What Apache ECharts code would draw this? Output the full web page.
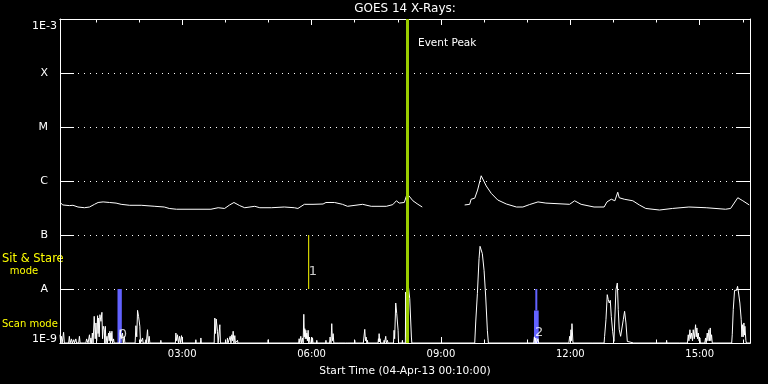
<!DOCTYPE html>
<html><head><meta charset="utf-8">
<script src="https://cdn.jsdelivr.net/npm/echarts@6/dist/echarts.min.js"></script>
<style>html,body{margin:0;padding:0;background:#000}#c{width:768px;height:384px}</style>
</head><body><div id="c"></div><script>
// x values are minutes after 00:00 on 04-Apr-2013, y values are flux (W/m^2)
const startMin = 10;
const endMin = 970;
const yTickLabels = ['1E-9', 'A', 'B', 'C', 'M', 'X', '1E-3'];
const majorTicks = [180, 360, 540, 720, 900];
const minorTicks = [60, 120, 240, 300, 420, 480, 600, 660, 780, 840, 960];
const eventPeakMin = 493;
const stareMarker = [[356, 1e-8], [356, 1e-7]];
const scanBlocks = [[90, 96, 1e-9, 1e-8], [669.5, 676, 1e-9, 4e-9], [671.3, 674.1, 4e-9, 1e-8]];
const modeLabels = [['0', 97.5, 1.41e-9], ['1', 362, 2.06e-8], ['2', 676.5, 1.53e-9]];

const goesFlux = [
[11,3.9e-7],[14,3.6e-7],[23,3.5e-7],[28,3.55e-7],[35,3.3e-7],[44,3.2e-7],[51,3.3e-7],[58,3.7e-7],[63,4.0e-7],[70,4.1e-7],
[79,4.0e-7],[88,3.9e-7],[95,3.7e-7],[107,3.55e-7],[123,3.55e-7],[142,3.4e-7],[155,3.3e-7],[162,3.1e-7],[172,3.0e-7],[220,3.0e-7],
[230,3.2e-7],[239,3.1e-7],[246,3.6e-7],[252,4.0e-7],[260,3.5e-7],[267,3.2e-7],[281,3.4e-7],[288,3.2e-7],[304,3.2e-7],[322,3.3e-7],
[336,3.2e-7],[341,3.1e-7],[350,3.7e-7],[362,3.7e-7],[376,3.75e-7],[380,4.0e-7],[392,4.0e-7],[403,3.7e-7],[410,3.4e-7],[431,3.7e-7],
[443,3.4e-7],[464,3.4e-7],[473,3.65e-7],[478,4.3e-7],[482,3.9e-7],[489,4.0e-7],[492,5.3e-7],[495,5.4e-7],[501,4.3e-7],[508,3.7e-7],
[514,3.3e-7],[540,null],[573,3.6e-7],[580,3.7e-7],[582,4.6e-7],[587,4.8e-7],[591,6.8e-7],[596,1.25e-6],[598,1.2e-6],[603,8.1e-7],
[610,5.9e-7],[619,4.45e-7],[631,3.75e-7],[645,3.3e-7],[654,3.3e-7],[663,3.65e-7],[675,4.1e-7],[686,3.9e-7],[719,3.7e-7],[726,4.3e-7],
[735,3.7e-7],[753,3.3e-7],[767,3.3e-7],[771,4.1e-7],[777,4.6e-7],[782,4.3e-7],[786,6.2e-7],[788,4.9e-7],[795,4.6e-7],[807,4.3e-7],
[816,3.6e-7],[825,3.1e-7],[844,2.9e-7],[862,3.1e-7],[885,3.3e-7],[909,3.2e-7],[936,3.0e-7],[943,3.1e-7],[953,4.9e-7],[960,4.3e-7],
[969,3.6e-7]
];

const scanFlux = [
[10,1.42e-9],[11,1e-9],[12,1.33e-9],[13,1e-9],[15,1.58e-9],[16,1e-9],
[22,1e-9],[23,1.33e-9],[24,1e-9],[26,1.19e-9],[27,1e-9],[29,1.15e-9],[30,1e-9],[32,1.19e-9],[33,1e-9],[36,1e-9],[37,1.33e-9],[38,1e-9],
[46,1e-9],[47,1.19e-9],[49,1e-9],[51,1.42e-9],[52,1e-9],[53,1.24e-9],[54,1e-9],[55,1.53e-9],[56,1e-9],[57.6,3.12e-9],[59,1.2e-9],
[60,2.35e-9],[61,1.1e-9],[62.3,3.2e-9],[63,1.5e-9],[63.7,2.9e-9],[64.5,1.3e-9],[65.5,3.34e-9],[67,2.52e-9],[68.3,3.7e-9],[69.2,1.2e-9],
[70.2,2.04e-9],[71.6,1.76e-9],[72.3,1e-9],[73,2.04e-9],[74,1e-9],[75.3,1.33e-9],[76,1e-9],[77.6,1.53e-9],[78.5,1.1e-9],[79.4,1.65e-9],
[80.1,1e-9],[80.8,1.53e-9],[81.5,1.1e-9],[82.2,1.65e-9],[83,1e-9],[84.5,1.19e-9],[85.3,1e-9],
[93,1e-9],[93.8,1.76e-9],[95,1.2e-9],[97,1.53e-9],[98,1e-9],[99.4,1.33e-9],[100.3,1e-9],
[114.5,1e-9],[115.6,2.09e-9],[116.8,1.3e-9],[117.9,4.03e-9],[119.3,3.12e-9],[121.1,2.04e-9],[122,1e-9],[124.3,1e-9],[124.9,1.24e-9],
[125.6,1e-9],[129,1e-9],[129.5,1.15e-9],[130.1,1e-9],[131.2,1e-9],[131.8,1.76e-9],[132.8,1e-9],[134.1,1.33e-9],[135,1e-9],
[150,1e-9],[150.3,1.12e-9],[150.8,1e-9],[154.6,1e-9],[155,1.07e-9],[155.5,1e-9],
[170.5,1e-9],[171.2,1.53e-9],[172.3,1.1e-9],[173.5,1.42e-9],[174.8,1e-9],[176.3,1.33e-9],[177.3,1e-9],[179.1,1.37e-9],[180,1e-9],
[198.5,1e-9],[199,1.15e-9],[199.6,1e-9],[205.4,1e-9],[206,1.24e-9],[206.7,1e-9],
[224.5,1e-9],[225.4,2.9e-9],[226.4,1.5e-9],[227.3,2.78e-9],[229.1,1.65e-9],[230,1e-9],[231.5,1e-9],[232.4,2.18e-9],[233.2,1e-9],
[242.3,1e-9],[243,1.24e-9],[243.8,1e-9],[246.1,1e-9],[246.8,1.33e-9],[247.8,1e-9],[249.1,1.42e-9],[250,1.1e-9],[250.9,1.65e-9],
[252,1e-9],[253.2,1.37e-9],[254,1e-9],[256.6,1e-9],[257,1.12e-9],[257.5,1e-9],
[299.1,1e-9],[299.6,1.15e-9],[300.2,1e-9],
[342,1e-9],[342.7,1.2e-9],[343.6,1e-9],[345,1.33e-9],[346,1e-9],[347.4,1.24e-9],[348.3,1e-9],[349.2,3.4e-9],[350,1.3e-9],
[350.6,1.84e-9],[351.3,1.2e-9],[352,1.72e-9],[352.7,1.2e-9],[353.4,1.53e-9],[354.2,1.1e-9],[355.2,1.72e-9],[356.1,1e-9],
[357.1,1.29e-9],[358,1e-9],[360.8,1e-9],[361.3,1.25e-9],[362,1e-9],[366.9,1e-9],[367.3,1.12e-9],[367.8,1e-9],
[379.5,1e-9],[380,1.12e-9],[380.5,1e-9],[385,1e-9],[385.8,1.29e-9],[387,1e-9],[388.1,2.28e-9],[389,1.1e-9],[390,1.49e-9],[391,1e-9],
[398,1e-9],[398.3,1.05e-9],[398.6,1e-9],[407.3,1e-9],[407.6,1.05e-9],[408,1e-9],[410.6,1e-9],[410.9,1.05e-9],[411.2,1e-9],
[419.7,1e-9],[420.1,1.12e-9],[420.5,1e-9],
[432,1e-9],[433,1.05e-9],[434,1.79e-9],[435,1.1e-9],[435.9,1.29e-9],[437,1e-9],[437.7,1.12e-9],[438.3,1e-9],
[452.5,1e-9],[453,1.2e-9],[453.5,1.05e-9],[454,1.49e-9],[454.7,1.05e-9],[455.4,1.2e-9],[456,1e-9],[460.5,1e-9],[460.9,1.12e-9],
[461.5,1e-9],[462.5,1e-9],[463.2,1.33e-9],[464,1e-9],[465.6,1.12e-9],[466.2,1e-9],
[474,1e-9],[474.8,1.72e-9],[475.6,1.2e-9],[477.1,5.5e-9],[478.5,3.49e-9],[480.4,1.72e-9],[481,1e-9],[486,1e-9],[486.4,1.12e-9],[486.8,1e-9],
[490.5,1e-9],[491,8.8e-9],[491.8,1.3e-9],[494,1.2e-9],[494.3,1.26e-8],[496.6,6.62e-9],[498.9,1.29e-9],[499.5,1e-9],
[587,1e-9],[588.4,2.45e-9],[590.7,8.19e-9],[593,3.65e-8],[594.4,6.17e-8],[595.8,5.99e-8],[597.6,4.51e-8],[600,2.22e-8],
[602.3,7.11e-9],[604.6,1.72e-9],[606,1e-9],
[669,1e-9],[670,1.3e-9],[671,1e-9],[672,1.24e-9],[673,1e-9],[675,1.2e-9],[676,1e-9],
[718,1e-9],[719.1,1.33e-9],[720,1.1e-9],[720.9,1.76e-9],[721.6,1.1e-9],[722.3,2.28e-9],[723.7,1e-9],
[750.3,1e-9],[750.6,1.07e-9],[751,1e-9],[764.2,1e-9],[764.5,1.07e-9],[765,1e-9],
[767,1e-9],[767.7,1.33e-9],[769.6,2.7e-9],[771.4,7.85e-9],[772.8,6.34e-9],[774.2,5.5e-9],[775.6,6.17e-9],[777,3.12e-9],
[778.9,1.65e-9],[780.7,1.07e-9],[782,1e-9],[783.5,9.71e-9],[785.4,1.29e-8],[786.7,4.14e-9],[788.1,1.76e-9],[790,1.33e-9],
[792.3,1.24e-9],[793.7,2.7e-9],[795.5,3.86e-9],[797.4,2.35e-9],[799.3,1.07e-9],[800,1e-9],
[808.2,1e-9],[808.5,1.05e-9],[809,1e-9],[853.6,1e-9],[854,1.12e-9],[854.4,1e-9],[871.6,1e-9],[872,1.07e-9],[872.4,1e-9],
[883,1e-9],[884.1,1.42e-9],[885,1.1e-9],[886.4,1.76e-9],[887.5,1.2e-9],[888.7,1.53e-9],[890,1.1e-9],[891,1.76e-9],[892.5,1.2e-9],
[894.3,2.18e-9],[895.2,1.3e-9],[896.1,1.9e-9],[897,1.2e-9],[898,1.53e-9],[899,1.1e-9],[900.3,1.24e-9],[901,1e-9],
[907,1e-9],[908.2,1.24e-9],[909,1e-9],[910.5,1.53e-9],[911.5,1.1e-9],[912.8,1.76e-9],[913.7,1.1e-9],[914.7,1.9e-9],[915.5,1.1e-9],
[916.5,1.42e-9],[917.5,1e-9],
[924,1e-9],[924.4,1.07e-9],[924.8,1e-9],[938,1e-9],[938.3,1.07e-9],[938.7,1e-9],
[944.5,1e-9],[945.3,1.42e-9],[946.7,4.14e-9],[948.5,9.45e-9],[949.9,9.71e-9],[951.3,9.45e-9],[952.7,1.12e-8],[954.1,8.43e-9],
[955.9,5.5e-9],[957.8,2.7e-9],[958.7,1.3e-9],[959.6,2.18e-9],[960.5,1.3e-9],[961.5,2.35e-9],[962.2,1.4e-9],[962.9,2.04e-9],
[964.3,1.1e-9],[965,1e-9],[970,1e-9]
];

const FONT = 'DejaVu Sans';
const WHITE = '#ffffff';
const YELLOW = '#ffff00';
const pad = n => String(n).padStart(2, '0');
const fmtTime = v => pad(Math.floor(v / 60)) + ':' + pad(Math.round(v % 60));

function xAx(pos, ticks, len, labels, extra) {
  return Object.assign({
    type: 'value', position: pos, min: startMin, max: endMin,
    axisLine: { show: true, lineStyle: { color: WHITE, width: 1 } },
    axisTick: { show: true, inside: true, length: len, customValues: ticks, lineStyle: { color: WHITE, width: 1 } },
    axisLabel: labels ? { show: true, customValues: ticks, formatter: fmtTime, color: WHITE, fontFamily: FONT, fontSize: 10, margin: 6 } : { show: false },
    splitLine: { show: false }
  }, extra || {});
}
function yAx(pos, withLabels) {
  const lab = { color: WHITE, fontFamily: FONT, fontSize: 11 };
  return {
    type: 'log', logBase: 10, position: pos, min: 1e-9, max: 1e-3, splitNumber: 6,
    axisLine: { show: true, lineStyle: { color: WHITE, width: 1 } },
    axisTick: { show: true, inside: true, length: 14, lineStyle: { color: WHITE, width: 1 } },
    splitLine: withLabels ? { show: true, lineStyle: { color: WHITE, width: 1, type: [1, 5] } } : { show: false },
    axisLabel: withLabels ? {
      show: true, color: WHITE, fontFamily: FONT, fontSize: 11, margin: 3,
      formatter: v => {
        const i = Math.round(Math.log10(v)) + 9;
        const s = yTickLabels[i] || '';
        if (i === 0) return '{bot|' + s + '}';
        if (i === yTickLabels.length - 1) return '{top|' + s + '}';
        return '{l|' + s + '}';
      },
      rich: {
        l: Object.assign({ padding: [0, 9, 0, 0] }, lab),
        top: Object.assign({ padding: [14, 0, 0, 0] }, lab),
        bot: Object.assign({ padding: [0, 0, 7, 0] }, lab)
      }
    } : { show: false }
  };
}

const chart = echarts.init(document.getElementById('c'), null, { renderer: 'canvas' });
chart.setOption({
  backgroundColor: '#000000',
  animation: false,
  grid: { left: 60, right: 18, top: 19, bottom: 41 },
  xAxis: [
    xAx('bottom', majorTicks, 6, true, { name: 'Start Time (04-Apr-13 00:10:00)', nameLocation: 'middle', nameGap: 23,
      nameTextStyle: { color: WHITE, fontFamily: FONT, fontSize: 10.7 } }),
    xAx('bottom', minorTicks, 3.5, false),
    xAx('top', majorTicks, 6, false),
    xAx('top', minorTicks, 3.5, false)
  ],
  yAxis: [yAx('left', true), yAx('right', false)],
  graphic: [
    { type: 'text', x: 405, y: 9, style: { text: 'GOES 14 X-Rays:', fill: WHITE, font: '12px "DejaVu Sans"', textAlign: 'center', textVerticalAlign: 'middle' } },
    { type: 'text', x: 418, y: 43, style: { text: 'Event Peak', fill: WHITE, font: '10.5px "DejaVu Sans"', textAlign: 'left', textVerticalAlign: 'middle' } },
    { type: 'text', x: 2, y: 259, style: { text: 'Sit & Stare', fill: YELLOW, font: '11.5px "DejaVu Sans"', textAlign: 'left', textVerticalAlign: 'middle' } },
    { type: 'text', x: 24, y: 271, style: { text: 'mode', fill: YELLOW, font: '10px "DejaVu Sans"', textAlign: 'center', textVerticalAlign: 'middle' } },
    { type: 'text', x: 2, y: 324, style: { text: 'Scan mode', fill: YELLOW, font: '10px "DejaVu Sans"', textAlign: 'left', textVerticalAlign: 'middle' } }
  ],
  series: [
    { type: 'line', name: 'scanBlocks', data: [], z: 1,
      markArea: { silent: true, itemStyle: { color: '#6262ff', opacity: 1 },
        data: scanBlocks.map(b => [{ xAxis: b[0], yAxis: b[2] }, { xAxis: b[1], yAxis: b[3] }]) } },
    { type: 'line', name: 'GOES', data: goesFlux, showSymbol: false, connectNulls: false, z: 2,
      lineStyle: { color: WHITE, width: 1 }, itemStyle: { color: WHITE } },
    { type: 'line', name: 'Scan', data: scanFlux, showSymbol: false, z: 2,
      lineStyle: { color: WHITE, width: 1 }, itemStyle: { color: WHITE } },
    { type: 'line', name: 'Stare', data: stareMarker, showSymbol: false, z: 2,
      lineStyle: { color: YELLOW, width: 1 }, itemStyle: { color: YELLOW } },
    { type: 'scatter', name: 'modes', symbolSize: 1, itemStyle: { color: 'rgba(0,0,0,0)' }, z: 4,
      data: modeLabels.map(m => ({ name: m[0], value: [m[1], m[2]] })),
      label: { show: true, position: 'inside', formatter: '{b}', color: WHITE, fontFamily: FONT, fontSize: 13 } },
    { type: 'line', name: 'event', data: [], z: 5,
      markLine: { silent: true, symbol: ['none', 'none'], label: { show: false },
        lineStyle: { color: '#9acd00', width: 3, type: 'solid' }, data: [{ xAxis: eventPeakMin }] } }
  ]
});
</script></body></html>
